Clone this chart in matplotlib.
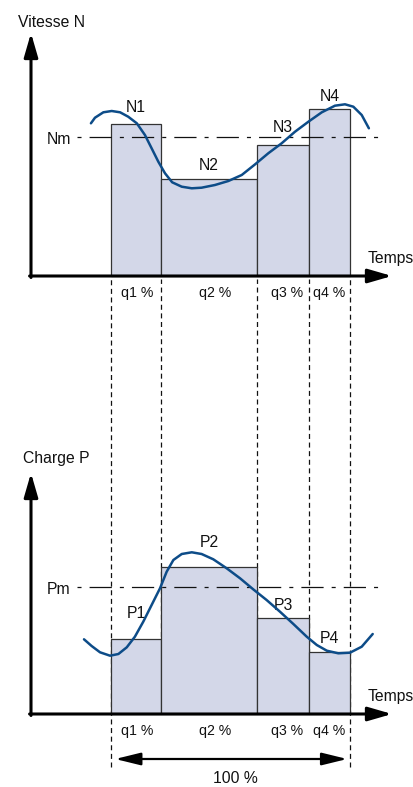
import matplotlib
matplotlib.use("Agg")
import matplotlib.pyplot as plt
import numpy as np

# ---------------- data ----------------
q_pct = [21, 40, 22, 17]
q_labels = ["q1 %", "q2 %", "q3 %", "q4 %"]

speed_vals = [152, 97, 131, 167]
speed_names = ["N1", "N2", "N3", "N4"]
speed_mean = 139

load_vals = [75, 147, 96, 62]
load_names = ["P1", "P2", "P3", "P4"]
load_mean = 127

speed_curve_t = [-8.4, -6.7, -3.2, 0.3, 3.8, 7.2, 10.8, 14.2, 17.0, 19.8, 22.6, 25.6,
                 29.6, 33.8, 37.9, 43.5, 49.1, 54.7, 60.3, 65.8, 71.4, 77.0, 82.6,
                 88.2, 93.7, 97.9, 101.4, 104.9, 107.9]
speed_curve_v = [152.7, 158.3, 163.7, 165.0, 163.7, 159.3, 152.7, 141.0, 127.7, 114.3,
                 102.7, 93.7, 89.3, 87.7, 88.3, 91.0, 95.0, 101.0, 111.7, 122.7, 132.7,
                 144.3, 154.3, 163.7, 170.3, 171.7, 169.3, 161.0, 147.7]

load_curve_t = [-11.3, -8.1, -4.6, -0.4, 3.1, 6.6, 10.0, 13.5, 17.0, 20.5, 23.3, 26.1,
                29.6, 33.8, 37.9, 42.8, 48.4, 54.0, 59.5, 65.1, 70.7, 76.3, 81.9, 86.1,
                90.3, 95.1, 100.0, 104.9, 109.5]
load_curve_v = [74.7, 68.0, 61.7, 58.3, 60.0, 66.7, 77.3, 92.3, 109.0, 125.7, 142.3,
                154.0, 160.0, 161.7, 160.0, 154.7, 145.7, 135.7, 124.7, 114.0, 102.3,
                90.0, 77.3, 69.0, 63.3, 60.7, 61.3, 67.3, 80.0]

speed_title = "Vitesse N"
load_title = "Charge P"
time_label = "Temps"
speed_mean_label = "Nm"
load_mean_label = "Pm"
total_label = "100 %"

# ---------------- style / layout ----------------
plt.rcParams["font.family"] = ["Liberation Sans", "DejaVu Sans"]
plt.rcParams["lines.scale_dashes"] = False

W, H = 413, 787
PX_T = 2.39          # pixels per time unit
T0_PX = 111          # pixel column of time 0
TOP_BASE_PX = 276    # pixel row of top time axis
BOT_BASE_PX = 714    # pixel row of bottom time axis

BAR_FILL = "#d3d7e8"
BAR_EDGE = "#333333"
CURVE = "#0d4c88"
TXT = "#111111"
FS = 11.3

fig = plt.figure(figsize=(W / 100, H / 100), dpi=100)
xlim = ((0 - T0_PX) / PX_T, (W - T0_PX) / PX_T)
t_axis = (31 - T0_PX) / PX_T
t_tip = (392 - T0_PX) / PX_T

ax_top = fig.add_axes([0, 0, 1, 1])
ax_top.set_xlim(*xlim)
ax_top.set_ylim(TOP_BASE_PX - H, TOP_BASE_PX)
ax_bot = fig.add_axes([0, 0, 1, 1])
ax_bot.set_xlim(*xlim)
ax_bot.set_ylim(BOT_BASE_PX - H, BOT_BASE_PX)
for a in (ax_top, ax_bot):
    a.set_axis_off()
    a.patch.set_alpha(0)

edges = np.concatenate([[0], np.cumsum(q_pct)])
centers = (edges[:-1] + edges[1:]) / 2

# dashed guide lines (drawn in top axes, running down through lower panel)
ax_top.vlines(edges[1:-1], -(BOT_BASE_PX - TOP_BASE_PX), -3, colors="#111111",
              lw=0.9, linestyles=(0, (3.6, 2.6)), zorder=1)
ax_top.vlines([edges[0], edges[-1]], -(767 - TOP_BASE_PX), -3, colors="#111111",
              lw=0.9, linestyles=(0, (3.6, 2.6)), zorder=1)

arrow_props = dict(arrowstyle="-|>,head_length=1.45,head_width=0.42", lw=2.2,
                   color="black", shrinkA=0, shrinkB=0, mutation_scale=10)


def panel(ax, vals, names, mean, mean_label, curve_t, curve_v, name_dy, ymax_tip):
    ax.bar(edges[:-1], vals, width=q_pct, align="edge", color=BAR_FILL,
           edgecolor=BAR_EDGE, lw=0.9, zorder=2)
    ax.plot([(77 - T0_PX) / PX_T, (385 - T0_PX) / PX_T], [mean, mean],
            color="#111111", lw=0.9, linestyle=(0, (2.9, 5.8, 16, 5.8)), zorder=3)
    ax.plot(curve_t, curve_v, color=CURVE, lw=1.8, zorder=4,
            solid_capstyle="round", solid_joinstyle="round")
    # axes with arrows
    ax.annotate("", xy=(t_axis, ymax_tip), xytext=(t_axis, -1.5),
                arrowprops=arrow_props, zorder=5)
    ax.annotate("", xy=(t_tip, 0), xytext=(t_axis - 0.6, 0),
                arrowprops=arrow_props, zorder=5)
    for c, v, n, dy in zip(centers, vals, names, name_dy):
        ax.text(c, v + dy, n, ha="center", va="baseline", fontsize=FS, color=TXT)
    ax.text((59 - T0_PX) / PX_T, mean - 7, mean_label, ha="center",
            va="baseline", fontsize=FS, color=TXT)
    ax.text((368 - T0_PX) / PX_T, 13, time_label, ha="left", va="baseline",
            fontsize=FS, color=TXT)
    for c, lab, dx in zip(centers, q_labels, [0.6, 2.5, 1.6, -0.1]):
        ax.text(c + dx, -21.5, lab, ha="center", va="baseline", fontsize=10.2,
                color=TXT)


panel(ax_top, speed_vals, speed_names, speed_mean, speed_mean_label,
      speed_curve_t, speed_curve_v, [12, 9, 13, 8], 243)
ax_top.text((18 - T0_PX) / PX_T, 249, speed_title, ha="left", va="baseline",
            fontsize=FS, color=TXT)

panel(ax_bot, load_vals, load_names, load_mean, load_mean_label,
      load_curve_t, load_curve_v, [21, 20, 8, 9], 241)
ax_bot.text((23 - T0_PX) / PX_T, 251, load_title, ha="left", va="baseline",
            fontsize=FS, color=TXT)

# 100 % span arrow
ax_bot.annotate("", xy=(edges[-1], -45), xytext=(edges[0], -45),
                arrowprops=dict(arrowstyle="<|-|>,head_length=1.55,head_width=0.38",
                                lw=1.6, color="black", shrinkA=3, shrinkB=2,
                                mutation_scale=10), zorder=5)
ax_bot.text((235 - T0_PX) / PX_T, -69, total_label, ha="center", va="baseline",
            fontsize=FS, color=TXT)

fig.savefig("out.png", dpi=100, facecolor="white")
